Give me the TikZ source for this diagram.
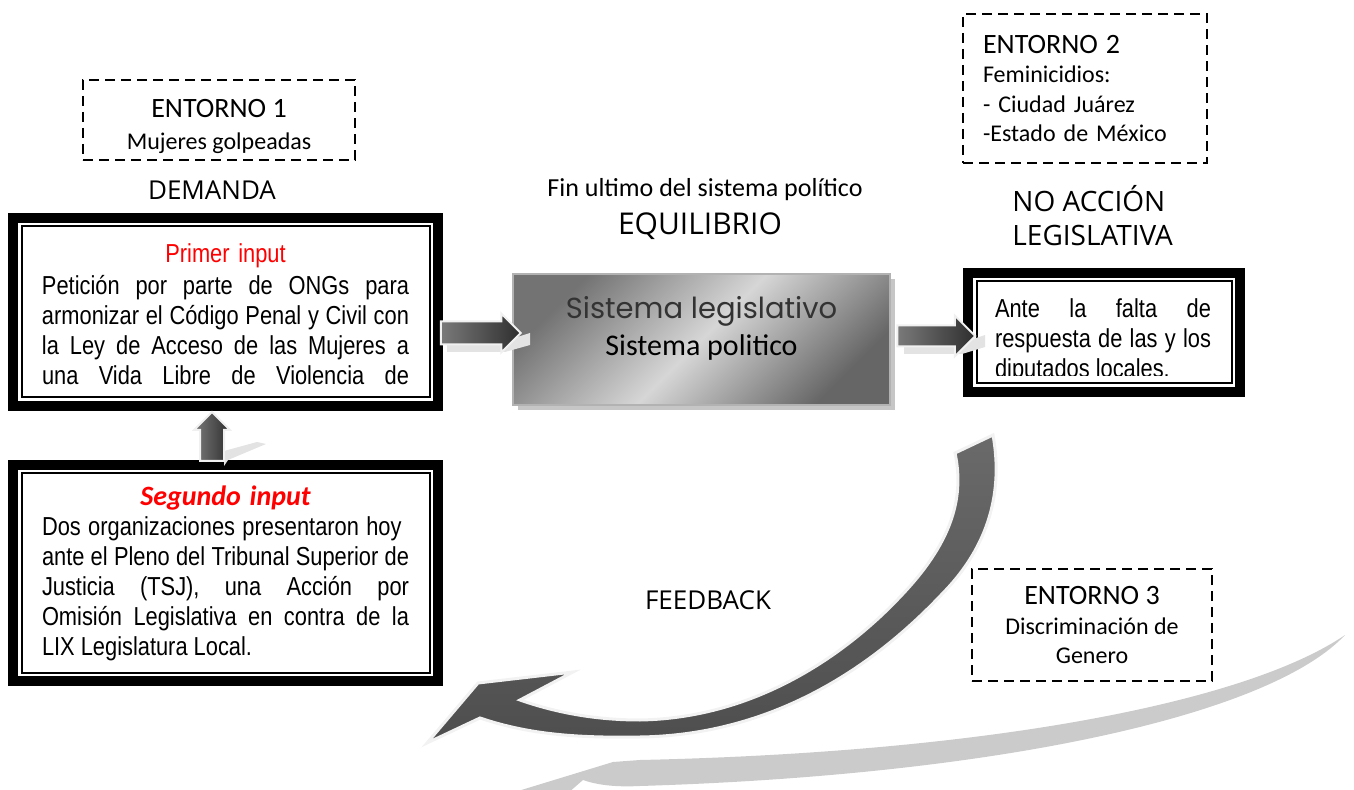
\documentclass[tikz,border=0pt]{standalone}
\usepackage{fontspec}
\setmainfont{Liberation Sans}
\newfontfamily\narrowfont[FakeStretch=0.84]{Liberation Sans}
\newfontfamily\calibrifont{Carlito}
\newfontfamily\handfont{Open Sans}
\newfontfamily\gothicfont{Poppins}
\usetikzlibrary{shapes.arrows,shadows}
\definecolor{arrowhi}{HTML}{7A7A7A}
\definecolor{arrowlo}{HTML}{2E2E2E}
\definecolor{curvetop}{HTML}{6A6A6A}
\definecolor{curvelow}{HTML}{4E4E4E}
\definecolor{paleshade}{HTML}{CBCBCB}
\definecolor{inred}{HTML}{FF0000}
\newcommand{\fullline}[1]{\makebox[\linewidth][s]{\spaceskip=0pt\xspaceskip=0pt\relax#1}}

\begin{document}
\begin{tikzpicture}[x=0.5pt,y=-0.5pt,
    inputbox/.style={draw, line width=5pt, inner sep=0pt, outer sep=0pt},
    envbox/.style={draw, dash pattern=on 5pt off 3pt, line width=1pt, inner sep=0pt,
      font=\calibrifont\fontsize{12}{14.75}\selectfont},
    bodytext/.style={text width=183.5pt, inner sep=0pt, anchor=north, align=left,
      font=\narrowfont\fontsize{13}{15}\selectfont},
    handtext/.style={font=\handfont\fontsize{13}{17}\selectfont},
    blockarrow/.style={single arrow, single arrow head extend=4pt, inner xsep=0pt,
      inner ysep=5.25pt, left color=arrowhi, right color=arrowlo,
      draw=gray!12, line width=1pt},
    sistemabox/.style={draw=gray!60, line width=0.6pt, minimum width=188.5pt,
      minimum height=65.5pt, top color=black!55, bottom color=black!60,
      middle color=black!16, shading angle=45,
      drop shadow={shadow xshift=2.5pt, shadow yshift=-2.5pt, fill=gray!45, opacity=1}},
  ]
  \useasboundingbox (0,0) rectangle (1354,790);

  % feedback curves
  \begin{scope}
    \clip (0,0) rectangle (1354,790);
    \fill[paleshade] (1345,635) .. controls (1250,700) and (1000,752) .. (640,760)
      -- (613,762) -- (505,795) -- (560,800) -- (583,780)
      .. controls (600,786) and (620,787) .. (640,786)
      .. controls (1000,775) and (1270,715) .. (1345,635) -- cycle;
  \end{scope}
  \shade[top color=curvetop, bottom color=curvelow, draw=gray!10, line width=1.5pt]
    (955,453) -- (993,435)
    .. controls (1003,490) and (990,545) .. (943,593)
    .. controls (880,660) and (780,735) .. (640,737)
    .. controls (580,738) and (530,735) .. (480,718)
    -- (427,743) -- (478,683) -- (573,672) -- (520,700)
    .. controls (560,714) and (600,720) .. (640,720)
    .. controls (760,718) and (850,650) .. (900,597)
    .. controls (950,545) and (965,500) .. (955,453) -- cycle;

  % environments
  \node[envbox, minimum width=136pt, minimum height=40pt] (entorno1) at (219,120) {};
  \node[align=center, font=\calibrifont\fontsize{12}{16}\selectfont] (entorno1text) at (219,126)
    {{\fontsize{14}{16}\selectfont ENTORNO 1}\\Mujeres golpeadas};
  \node[envbox, minimum width=122pt, minimum height=74.5pt, inner xsep=10pt,
    text width=102pt, align=left] (entorno2) at (1085,88.5)
    {{\fontsize{14}{15}\selectfont ENTORNO 2}\\Feminicidios:\\- Ciudad Juárez\\-Estado de México};
  \node[envbox, minimum width=120pt, minimum height=56pt, align=center] (entorno3) at (1092,625)
    {{\fontsize{14}{15}\selectfont ENTORNO 3}\\Discriminación de\\Genero};

  % labels
  \node[handtext] (demanda) at (212,190) {DEMANDA};
  \node[font=\calibrifont\fontsize{13}{15}\selectfont] (fin) at (705,190) {Fin ultimo del sistema político};
  \node[handtext, font=\handfont\fontsize{15}{17}\selectfont] (equilibrio) at (700,226) {EQUILIBRIO};
  \node[handtext, font=\handfont\fontsize{14}{17}\selectfont, align=left, anchor=west, inner sep=0pt]
    (noaccion) at (1012,216) {NO ACCIÓN\\LEGISLATIVA};
  \node[handtext] (feedback) at (708,600) {FEEDBACK};

  % inputs
  \node[inputbox, minimum width=212.5pt, minimum height=94pt] (primer) at (225.5,312) {};
  \draw[line width=1pt] ([shift={(8.5,8.5)}]primer.north west) rectangle ([shift={(-8.5,-8.5)}]primer.south east);
  \node[bodytext] (primertext) at (225.5,243)
    {\makebox[\linewidth][c]{\textcolor{inred}{Primer input}}\\[1pt]
     \fullline{Petición por parte de ONGs para}\\
     \fullline{armonizar el Código Penal y Civil con}\\
     \fullline{la Ley de Acceso de las Mujeres a}\\
     \fullline{una Vida Libre de Violencia de}};

  \node[inputbox, minimum width=212.5pt, minimum height=108pt] (segundo) at (225.5,573) {};
  \draw[line width=1pt] ([shift={(8.5,8.5)}]segundo.north west) rectangle ([shift={(-8.5,-8.5)}]segundo.south east);
  \begin{scope}
    \clip (30,480) rectangle (420,663);
    \node[bodytext] (segundotext) at (225.5,485)
      {\makebox[\linewidth][c]{\textcolor{inred}{\calibrifont\bfseries\itshape\fontsize{14}{15}\selectfont Segundo input}}\\
       \fullline{Dos organizaciones presentaron hoy\ }\\
       \fullline{ante el Pleno del Tribunal Superior de}\\
       \fullline{Justicia (TSJ), una Acción por}\\
       \fullline{Omisión Legislativa en contra de la}\\
       {\spaceskip=0pt\relax LIX Legislatura Local.}};
  \end{scope}

  % sistema
  \node[sistemabox] (sistema) at (701.5,339.5) {};
  \node[font=\gothicfont\fontsize{14.5}{16}\selectfont, text=black!80] (legis) at (701.5,311) {Sistema legislativo};
  \node[font=\calibrifont\fontsize{15}{17}\selectfont] (politico) at (701.5,348) {Sistema politico};

  % salida
  \node[inputbox, minimum width=136pt, minimum height=59.5pt] (falta) at (1104,332.5) {};
  \draw[line width=1pt] ([shift={(8.5,8.5)}]falta.north west) rectangle ([shift={(-8.5,-8.5)}]falta.south east);
  \begin{scope}
    \clip (980,285) rectangle (1228,376);
    \node[bodytext, text width=108pt] (faltatext) at (1103,298)
      {\fullline{Ante la falta de}\\ \fullline{respuesta de las y los}\\ {\spaceskip=0pt\relax diputados locales.}};
  \end{scope}

  % block arrows
  \fill[gray!22] (447,344) -- (495,344) -- (530,333) -- (530,345) -- (505,352) -- (447,352) -- cycle;
  \fill[gray!22] (904,346) -- (952,346) -- (985,335) -- (985,347) -- (962,354) -- (904,354) -- cycle;
  \fill[gray!22] (224,466) -- (224,451) -- (257,442) -- (266,444) -- (228,460) -- cycle;
  \node[blockarrow, minimum height=40pt] (toSistema) at (475,333) {};
  \node[blockarrow, minimum height=39pt, inner ysep=4.75pt, single arrow head extend=5pt] (toFalta) at (931,336) {};
  \node[blockarrow, rotate=90, minimum height=24.5pt, inner ysep=5.5pt, single arrow head extend=3pt] (toPrimer) at (212,442.5) {};
\end{tikzpicture}
\end{document}
